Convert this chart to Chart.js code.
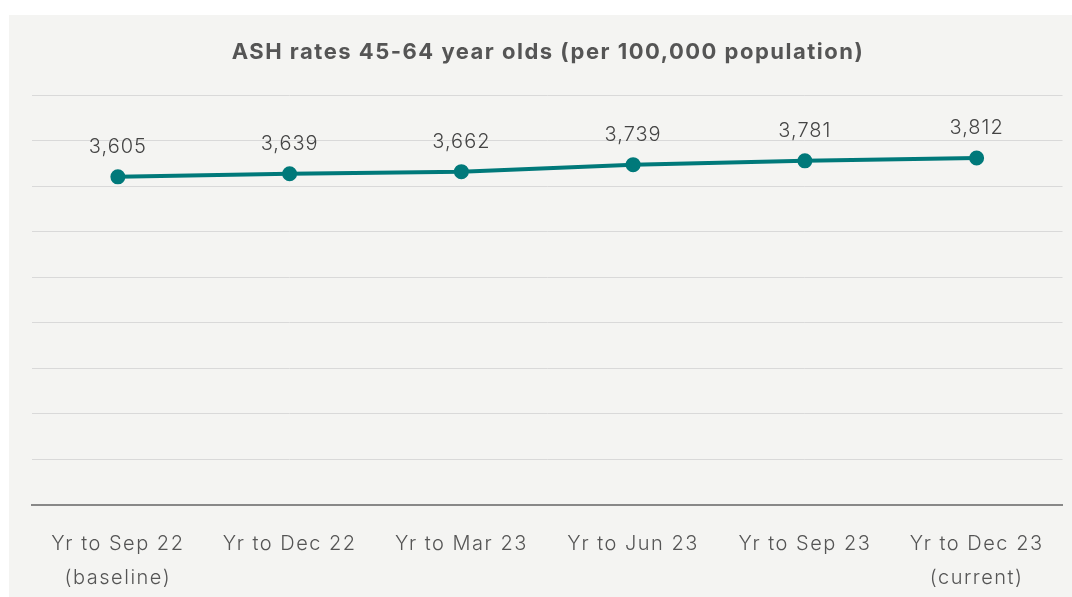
<!DOCTYPE html>
<html>
<head>
<meta charset="utf-8">
<script src="https://cdn.jsdelivr.net/npm/chart.js@4.4.1/dist/chart.umd.min.js"></script>
<style>
    body { margin: 0; background: #ffffff; }
    #panel {
        position: absolute;
        left: 9px;
        top: 15px;
        width: 1063px;
        height: 582px;
        background: #f4f4f2;
    }
</style>
</head>
<body>
<div id="panel"><canvas id="ashChart" width="1063" height="582"></canvas></div>
<script>
// Chart data
const periods = [
    ['Yr to Sep 22', '(baseline)'],
    'Yr to Dec 22',
    'Yr to Mar 23',
    'Yr to Jun 23',
    'Yr to Sep 23',
    ['Yr to Dec 23', '(current)']
];
const ashRates = [3605, 3639, 3662, 3739, 3781, 3812];
const yTicks = [0, 500, 1000, 1500, 2000, 2500, 3000, 3500, 4000, 4500];

const FONT = "Inter, 'Open Sans', sans-serif";
const TEAL = '#00797a';

// Wider tracking for all canvas text
const textSpacing = {
    id: 'textSpacing',
    beforeDraw(chart) {
        chart.ctx.letterSpacing = '1.5px';
    }
};

// Value labels above each point
const pointLabels = {
    id: 'pointLabels',
    afterDatasetsDraw(chart) {
        const ctx = chart.ctx;
        const meta = chart.getDatasetMeta(0);
        ctx.save();
        ctx.letterSpacing = '1px';
        ctx.font = `300 20px ${FONT}`;
        ctx.fillStyle = '#444444';
        ctx.textAlign = 'center';
        ctx.textBaseline = 'middle';
        meta.data.forEach((pt, i) => {
            ctx.fillText(ashRates[i].toLocaleString('en-GB'), pt.x, pt.y - 30);
        });
        ctx.restore();
    }
};

const ctx = document.getElementById('ashChart').getContext('2d');
const ashChart = new Chart(ctx, {
    type: 'line',
    data: {
        labels: periods,
        datasets: [{
            data: ashRates,
            borderColor: TEAL,
            backgroundColor: TEAL,
            borderWidth: 4,
            pointRadius: 5.5,
            pointHoverRadius: 5.5,
            tension: 0,
            fill: false
        }]
    },
    options: {
        responsive: false,
        animation: false,
        layout: {
            padding: { left: 23, right: 8, top: 0, bottom: 0 }
        },
        plugins: {
            legend: { display: false },
            tooltip: { enabled: false },
            title: {
                display: true,
                text: 'ASH rates 45-64 year olds (per 100,000 population)',
                color: '#555555',
                font: { family: FONT, size: 22, weight: '700' },
                padding: { top: 24, bottom: 30 }
            }
        },
        scales: {
            y: {
                min: 0,
                max: 4500,
                afterBuildTicks: (scale) => {
                    scale.ticks = yTicks.map(v => ({ value: v }));
                },
                ticks: { display: false },
                border: { display: false },
                grid: {
                    color: '#d9d9d9',
                    lineWidth: 1,
                    drawTicks: false
                }
            },
            x: {
                offset: true,
                afterFit: (scale) => { scale.height = 92; },
                grid: { display: false, offset: true },
                border: { color: '#888888', width: 2 },
                ticks: {
                    color: '#555555',
                    padding: 14,
                    maxRotation: 0,
                    font: { family: FONT, size: 20, weight: '300', lineHeight: 1.7 }
                }
            }
        }
    },
    plugins: [textSpacing, pointLabels]
});
</script>
</body>
</html>
